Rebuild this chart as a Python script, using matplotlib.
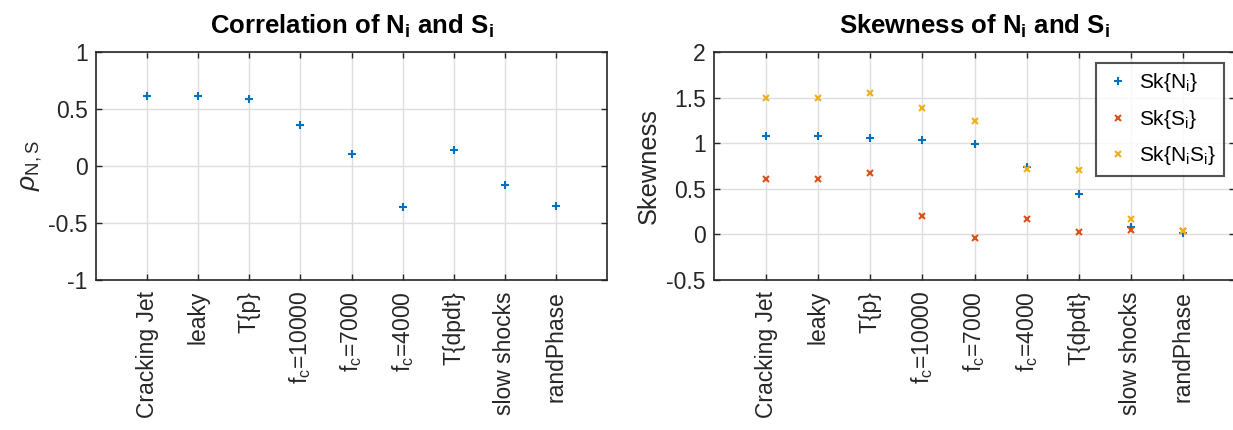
import matplotlib
matplotlib.use("Agg")
import matplotlib.pyplot as plt

plt.rcParams["font.family"] = ["Liberation Sans", "DejaVu Sans"]
plt.rcParams["mathtext.fontset"] = "custom"
plt.rcParams["mathtext.rm"] = "Liberation Sans"
plt.rcParams["mathtext.it"] = "Liberation Sans:italic"
plt.rcParams["mathtext.bf"] = "Liberation Sans:bold"

categories = [
    "Cracking Jet", "leaky", "T{p}",
    "f$_{\\rm c}$=10000", "f$_{\\rm c}$=7000", "f$_{\\rm c}$=4000",
    "T{dpdt}", "slow shocks", "randPhase",
]
rho_ns = [0.61, 0.61, 0.59, 0.36, 0.105, -0.36, 0.14, -0.168, -0.35]
sk_n = [1.078, 1.078, 1.06, 1.04, 0.994, 0.734, 0.441, 0.086, 0.013]
sk_s = [0.606, 0.606, 0.672, 0.204, -0.038, 0.167, 0.031, 0.053, 0.042]
sk_ns = [1.50, 1.50, 1.547, 1.383, 1.244, 0.716, 0.709, 0.174, 0.042]

blue = "#0072BD"
red = "#D95319"
yellow = "#EDB120"
dark = "#262626"

fig = plt.figure(figsize=(12.33, 4.30), dpi=100)
ax1 = fig.add_axes([96 / 1233, 1 - 280 / 430, 511 / 1233, 228 / 430])
ax2 = fig.add_axes([714 / 1233, 1 - 280 / 430, 521 / 1233, 228 / 430])

x = list(range(1, len(categories) + 1))


def style_axes(ax, ylim, yticks):
    ax.set_xlim(0, 10)
    ax.set_ylim(*ylim)
    ax.set_yticks(yticks)
    ax.set_yticklabels([f"{t:g}" for t in yticks])
    ax.set_xticks(x)
    ax.set_xticklabels(categories, rotation=90)
    ax.grid(True, color="#dedede", linewidth=1.0)
    ax.set_axisbelow(True)
    ax.tick_params(direction="in", top=True, right=True, length=4,
                   width=1.0, colors=dark, labelsize=16.5, pad=6)
    ax.tick_params(axis="x", pad=8)
    for s in ax.spines.values():
        s.set_color(dark)
        s.set_linewidth(1.2)


ax1.plot(x, rho_ns, "+", color=blue, markersize=5.5, mew=1.5)
style_axes(ax1, (-1, 1), [-1, -0.5, 0, 0.5, 1])
ax1.set_ylabel(r"$\rho_{\rm N,S}$", fontsize=19, color=dark, labelpad=3)
ax1.set_title(r"Correlation of N$_\mathbf{i}$ and S$_\mathbf{i}$",
              fontsize=18.5, fontweight="bold", pad=13)

ax2.plot(x, sk_n, "+", color=blue, markersize=5.5, mew=1.5, label=r"Sk{N$_{\rm i}$}")
ax2.plot(x, sk_s, "x", color=red, markersize=4.3, mew=1.5, label=r"Sk{S$_{\rm i}$}")
ax2.plot(x, sk_ns, "x", color=yellow, markersize=4.3, mew=1.5,
         label=r"Sk{N$_{\rm i}$S$_{\rm i}$}")
style_axes(ax2, (-0.5, 2), [-0.5, 0, 0.5, 1, 1.5, 2])
ax2.set_ylabel("Skewness", fontsize=18.3, color=dark, labelpad=4)
ax2.set_title(r"Skewness of N$_\mathbf{i}$ and S$_\mathbf{i}$",
              fontsize=18.5, fontweight="bold", pad=13)

leg = ax2.legend(loc="upper right", bbox_to_anchor=(1224 / 1233, 1 - 63 / 430),
                 bbox_transform=fig.transFigure, borderaxespad=0, fontsize=15,
                 frameon=True, fancybox=False, handlelength=1.35,
                 handletextpad=0.3, labelspacing=0.65, borderpad=0.4)
leg.get_frame().set_edgecolor(dark)
leg.get_frame().set_linewidth(1.5)

fig.savefig("out.png", dpi=100)
